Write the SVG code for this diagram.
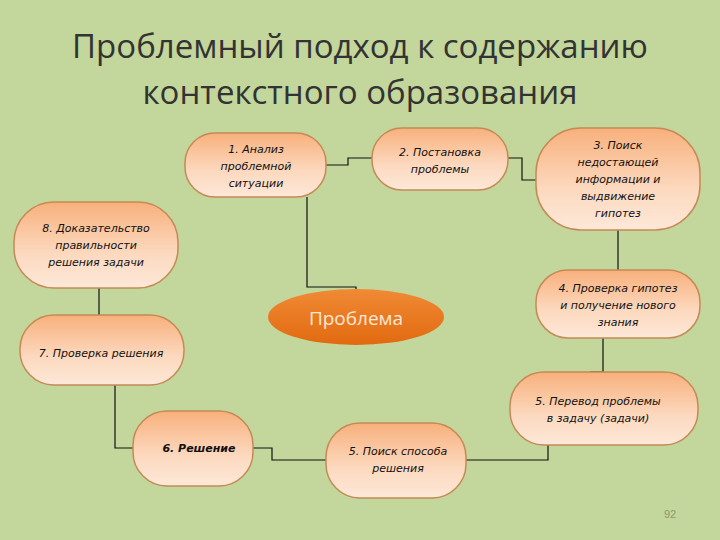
<svg xmlns="http://www.w3.org/2000/svg" width="720" height="540" viewBox="0 0 720 540">
<defs>
<linearGradient id="g" x1="0" y1="0" x2="0" y2="1"><stop offset="0" stop-color="#f8b07c"/><stop offset="0.6" stop-color="#fcd9bf"/><stop offset="1" stop-color="#fde8d8"/></linearGradient>
<linearGradient id="o" x1="0" y1="0" x2="0" y2="1"><stop offset="0" stop-color="#f08a35"/><stop offset="1" stop-color="#e26a10"/></linearGradient>
</defs>
<style>
.n{fill:url(#g);stroke:#c58a55;stroke-width:1.5}
.t{font-family:"DejaVu Sans",sans-serif;font-style:italic;font-size:11px;fill:#111;text-anchor:middle}
.c{fill:none;stroke:#111;stroke-width:1.2}
</style>
<rect width="720" height="540" fill="#c3d69b"/>
<text x="360" y="58" font-family="'Open Sans',sans-serif" font-size="33" fill="#333" text-anchor="middle">Проблемный  подход к содержанию</text>
<text x="360" y="104" font-family="'Open Sans',sans-serif" font-size="33" fill="#333" text-anchor="middle">контекстного образования</text>
<g id="connectors">
<path class="c" d="M326 165H348V158H372"/>
<path class="c" d="M307 197V287H356V290"/>
<path class="c" d="M508 158H522V180H536"/>
<path class="c" d="M618 230V270"/>
<path class="c" d="M603 338V372H590"/>
<path class="c" d="M548 445V460H466"/>
<path class="c" d="M253 448H272V460H326"/>
<path class="c" d="M115 385V448H133"/>
<path class="c" d="M99 288V315"/>
</g>
<g id="n1"><rect class="n" x="185" y="133" width="141" height="64" rx="30"/><text class="t" x="256" y="153">1. Анализ</text><text class="t" x="256" y="170">проблемной</text><text class="t" x="256" y="187">ситуации</text></g>
<g id="n2"><rect class="n" x="372" y="128" width="136" height="62" rx="30"/><text class="t" x="440" y="156">2. Постановка</text><text class="t" x="440" y="173">проблемы</text></g>
<g id="n3"><rect class="n" x="536" y="128" width="164" height="102" rx="45"/><text class="t" x="618" y="149">3. Поиск</text><text class="t" x="618" y="166">недостающей</text><text class="t" x="618" y="183">информации и</text><text class="t" x="618" y="200">выдвижение</text><text class="t" x="618" y="217">гипотез</text></g>
<g id="n8"><rect class="n" x="14" y="202" width="164" height="86" rx="40"/><text class="t" x="96" y="232">8. Доказательство</text><text class="t" x="96" y="249">правильности</text><text class="t" x="96" y="266">решения задачи</text></g>
<g id="n4"><rect class="n" x="536" y="270" width="164" height="68" rx="32"/><text class="t" x="618" y="292">4. Проверка гипотез</text><text class="t" x="618" y="309">и получение нового</text><text class="t" x="618" y="326">знания</text></g>
<g id="n0"><ellipse cx="356" cy="317" rx="88" ry="28" fill="url(#o)"/><text x="356" y="325" font-family="'Open Sans',sans-serif" font-size="19" fill="#fde8d8" text-anchor="middle">Проблема</text></g>
<g id="n7"><rect class="n" x="20" y="315" width="164" height="70" rx="34"/><text class="t" x="101" y="357">7. Проверка решения</text></g>
<g id="n5a"><rect class="n" x="510" y="372" width="188" height="73" rx="34"/><text class="t" x="598" y="405">5. Перевод проблемы</text><text class="t" x="598" y="422">в задачу (задачи)</text></g>
<g id="n6"><rect class="n" x="133" y="411" width="120" height="75" rx="34"/><text class="t" x="199" y="452" font-weight="bold">6. Решение</text></g>
<g id="n5b"><rect class="n" x="326" y="423" width="140" height="75" rx="34"/><text class="t" x="398" y="455">5. Поиск способа</text><text class="t" x="398" y="472">решения</text></g>
<text x="670" y="518" font-family="'Liberation Sans',sans-serif" font-size="11" fill="#8a9a70" text-anchor="middle">92</text>
</svg>
